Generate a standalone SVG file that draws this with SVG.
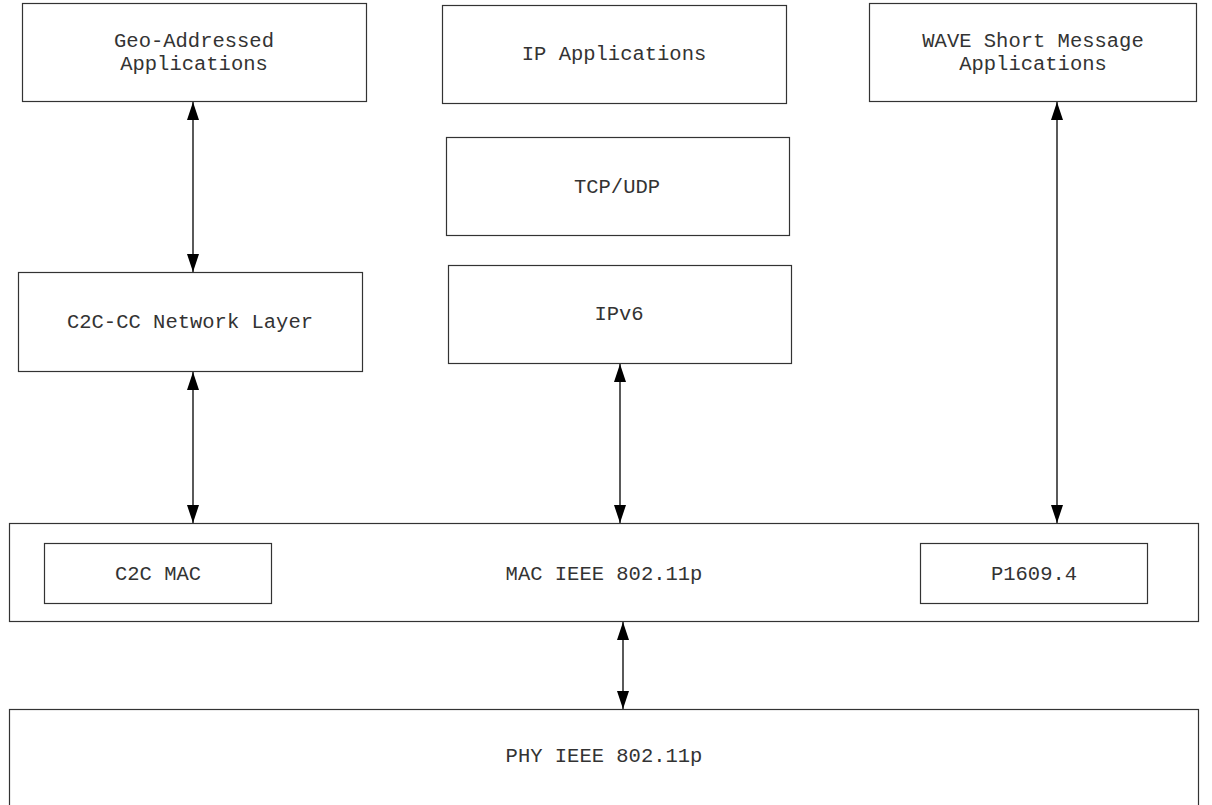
<svg xmlns="http://www.w3.org/2000/svg" width="1212" height="805" viewBox="0 0 1212 805">
<style>
.box{fill:#ffffff;stroke:#333333;stroke-width:1.2}
.lbl{font-family:"Liberation Mono","Courier New",monospace;font-size:20.5px;fill:#333333;text-anchor:middle}
.con{stroke:#000000;stroke-width:1.3;fill:none;marker-start:url(#ah);marker-end:url(#ah)}
</style>
<defs>
<marker id="ah" viewBox="0 0 18 12" refX="18" refY="6" markerWidth="18" markerHeight="12" markerUnits="userSpaceOnUse" orient="auto-start-reverse">
<path d="M0,0 L18,6 L0,12 Z" fill="#000000"/>
</marker>
</defs>
<rect width="1212" height="805" fill="#ffffff"/>
<g id="geo"><rect class="box" x="22.5" y="3.5" width="344" height="98"/><text class="lbl" x="194" y="47">Geo-Addressed</text><text class="lbl" x="194" y="70">Applications</text></g>
<g id="ipapps"><rect class="box" x="442.5" y="5.5" width="344" height="98"/><text class="lbl" x="614" y="60">IP Applications</text></g>
<g id="wave"><rect class="box" x="869.5" y="3.5" width="327" height="98"/><text class="lbl" x="1033" y="47">WAVE Short Message</text><text class="lbl" x="1033" y="70">Applications</text></g>
<g id="tcpudp"><rect class="box" x="446.5" y="137.5" width="343" height="98"/><text class="lbl" x="617" y="193">TCP/UDP</text></g>
<g id="c2ccc"><rect class="box" x="18.5" y="272.5" width="344" height="99"/><text class="lbl" x="190" y="328">C2C-CC Network Layer</text></g>
<g id="ipv6"><rect class="box" x="448.5" y="265.5" width="343" height="98"/><text class="lbl" x="619" y="320">IPv6</text></g>
<g id="mac"><rect class="box" x="9.5" y="523.5" width="1189" height="98"/><text class="lbl" x="604" y="580">MAC IEEE 802.11p</text></g>
<g id="c2cmac"><rect class="box" x="44.5" y="543.5" width="227" height="60"/><text class="lbl" x="158" y="580">C2C MAC</text></g>
<g id="p1609"><rect class="box" x="920.5" y="543.5" width="227" height="60"/><text class="lbl" x="1034" y="580">P1609.4</text></g>
<g id="phy"><rect class="box" x="9.5" y="709.5" width="1189" height="100"/><text class="lbl" x="604" y="762">PHY IEEE 802.11p</text></g>
<g id="connectors">
<line class="con" x1="193" y1="102" x2="193" y2="272"/>
<line class="con" x1="193" y1="372" x2="193" y2="523"/>
<line class="con" x1="620" y1="364" x2="620" y2="523"/>
<line class="con" x1="1057" y1="102" x2="1057" y2="523"/>
<line class="con" x1="623" y1="622" x2="623" y2="709"/>
</g>
</svg>
